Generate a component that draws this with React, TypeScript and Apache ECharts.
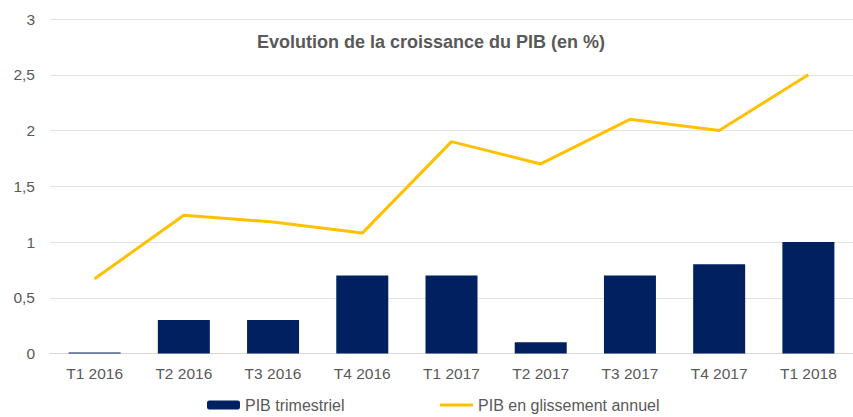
import React, { useEffect, useRef } from "react";
import * as echarts from "echarts";

const categories = ["T1 2016", "T2 2016", "T3 2016", "T4 2016", "T1 2017", "T2 2017", "T3 2017", "T4 2017", "T1 2018"];
const pibTrimestriel = [0.01, 0.3, 0.3, 0.7, 0.7, 0.1, 0.7, 0.8, 1.0];
const pibGlissement = [0.67, 1.24, 1.18, 1.08, 1.9, 1.7, 2.1, 2.0, 2.5];
const titleText = "Evolution de la croissance du PIB (en %)";
const seriesNames = ["PIB trimestriel", "PIB en glissement annuel"];

export default function App() {
  const ref = useRef<HTMLDivElement>(null);
  useEffect(() => {
    document.body.style.margin = "0";
    if (!ref.current) return;
    const chart = echarts.init(ref.current, undefined, { renderer: "svg" });
    const font = "'Liberation Sans', Arial, sans-serif";
    chart.setOption({
      animation: false,
      textStyle: { fontFamily: font },
      graphic: [
        {
          type: "text",
          x: 431,
          y: 42,
          style: {
            text: titleText,
            fill: "#595959",
            font: `bold 18px ${font}`,
            textAlign: "center",
            textVerticalAlign: "middle",
          },
        },
      ],
      grid: { left: 50, right: 0, top: 19, bottom: 63.5, outerBoundsMode: "none" },
      legend: {
        left: 207,
        top: 396,
        padding: 0,
        itemWidth: 33,
        itemHeight: 9,
        itemGap: 94,
        textStyle: { color: "#595959", fontSize: 16, fontFamily: font, lineHeight: 18 },
        data: [
          { name: seriesNames[0] },
          { name: seriesNames[1], itemStyle: { opacity: 0 }, lineStyle: { width: 3 } },
        ],
      },
      xAxis: {
        type: "category",
        data: categories,
        axisLine: { lineStyle: { color: "#d9d9d9", width: 1 } },
        axisTick: { show: false },
        axisLabel: { color: "#595959", fontSize: 15.5, margin: 12, fontFamily: font },
      },
      yAxis: {
        type: "value",
        min: 0,
        max: 3,
        interval: 0.5,
        axisLine: { show: false },
        axisTick: { show: false },
        splitLine: { lineStyle: { color: "#e3e3e3", width: 1 } },
        axisLabel: {
          color: "#595959",
          fontSize: 15.5,
          margin: 15,
          fontFamily: font,
          formatter: (v: number) => String(v).replace(".", ","),
        },
      },
      series: [
        {
          name: seriesNames[0],
          type: "bar",
          data: pibTrimestriel,
          barWidth: 52,
          itemStyle: { color: "#002060" },
        },
        {
          name: seriesNames[1],
          type: "line",
          data: pibGlissement,
          symbol: "none",
          lineStyle: { color: "#FFC000", width: 3 },
          itemStyle: { color: "#FFC000" },
        },
      ],
    });
    return () => chart.dispose();
  }, []);
  return <div ref={ref} style={{ width: 853, height: 417 }} />;
}
